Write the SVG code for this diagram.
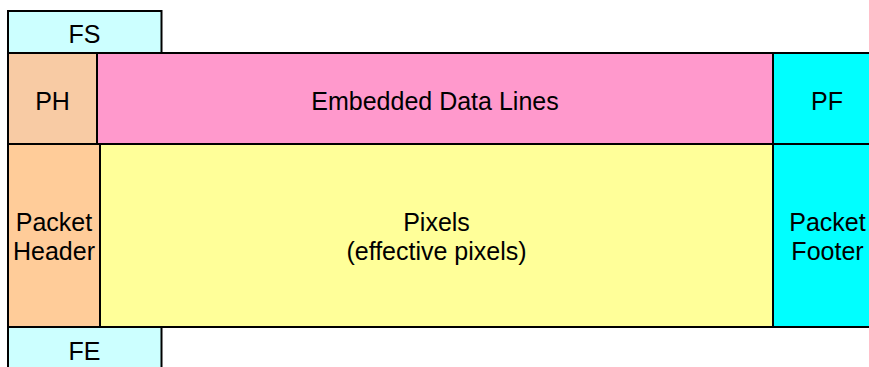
<svg xmlns="http://www.w3.org/2000/svg" width="869" height="367" viewBox="0 0 869 367">
<style>
rect{stroke:#000;stroke-width:2}
text{font-family:"Liberation Sans",Arial,sans-serif;font-size:25px;fill:#000;text-anchor:middle}
</style>
<rect width="869" height="367" fill="#fff" style="stroke:none"/>
<g id="FS"><rect x="8" y="11" width="153.5" height="42" fill="#CCFFFF"/><text x="84.5" y="43">FS</text></g>
<g id="FE"><rect x="8" y="327" width="153.5" height="50" fill="#CCFFFF"/><text x="84.5" y="360">FE</text></g>
<g id="PH"><rect x="8" y="53" width="89" height="91" fill="#F8CBA4"/><text x="52.5" y="110">PH</text></g>
<g id="EDL"><rect x="97" y="53" width="676" height="91" fill="#FF99CC"/><text x="435" y="109.5">Embedded Data Lines</text></g>
<g id="PF"><rect x="773" y="53" width="110" height="91" fill="#00FFFF"/><text x="827" y="109.5">PF</text></g>
<g id="PacketHeader"><rect x="8" y="144" width="92" height="183" fill="#FFCC99"/><text x="54" y="231">Packet</text><text x="54" y="260">Header</text></g>
<g id="Pixels"><rect x="100" y="144" width="673" height="183" fill="#FFFF99"/><text x="436.5" y="231">Pixels</text><text x="436.5" y="260">(effective pixels)</text></g>
<g id="PacketFooter"><rect x="773" y="144" width="110" height="183" fill="#00FFFF"/><text x="827.5" y="231">Packet</text><text x="827.5" y="260">Footer</text></g>
<g id="connectors"/>
</svg>
